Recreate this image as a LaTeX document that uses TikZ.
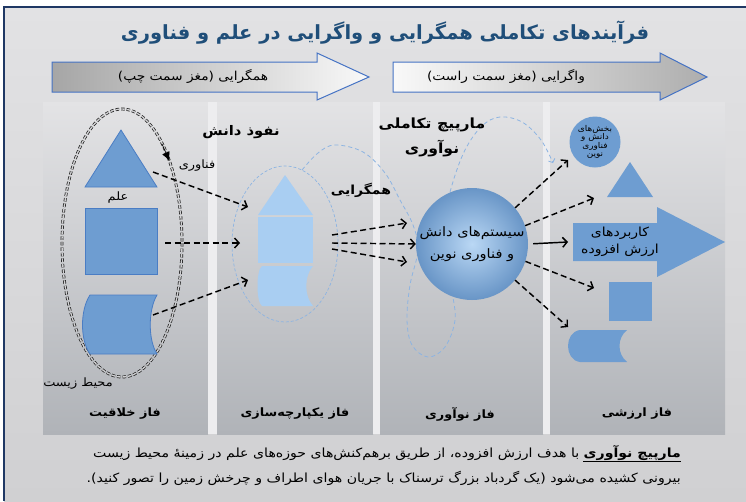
\documentclass[tikz,border=0pt]{standalone}
\usepackage{fontspec}
\usetikzlibrary{shapes.geometric,arrows.meta,calc}
\TeXXeTstate=1
\newfontfamily\fa[Script=Arabic, FakeStretch=1.12]{DejaVu Sans}
\newfontfamily\fatitle[Script=Arabic]{DejaVu Sans}
\newcommand\RL[1]{\beginR #1\endR}
\newcommand\zw{\kern0pt{}}
\definecolor{navy}{HTML}{1F4E79}
\definecolor{frameblue}{HTML}{1F3864}
\definecolor{arrowblue}{HTML}{4472C4}
\definecolor{shapeblue}{HTML}{6E9DD1}
\definecolor{shapeedge}{HTML}{4A7DC4}
\definecolor{lightshape}{HTML}{A9CEF2}
\definecolor{spiral}{HTML}{8DB4E2}
\definecolor{bgtop}{HTML}{E2E2E4}
\definecolor{bgbot}{HTML}{D0D0D2}
\definecolor{coltop}{HTML}{E3E3E5}
\definecolor{colbot}{HTML}{B0B3B8}
\definecolor{gapcol}{HTML}{EDEDEF}
\begin{document}
\begin{tikzpicture}[x=1pt,y=-1pt,
  txt/.style={font=\fa\fontsize{#1}{#1}\selectfont, inner sep=0pt},
  btxt/.style={font=\fa\bfseries\fontsize{#1}{#1}\selectfont, inner sep=0pt},
  bigarrow/.style={draw=arrowblue, line width=1pt},
  dasharrow/.style={draw=black, line width=1.45pt, dash pattern=on 6pt off 3.5pt, -{Straight Barb[length=4.5pt,width=10pt]}},
  solidarrow/.style={draw=black, line width=1.45pt, -{Straight Barb[length=4.5pt,width=10pt]}},
  spiralline/.style={draw=spiral, line width=0.8pt, dash pattern=on 4pt off 3pt},
  colband/.style={top color=coltop, bottom color=colbot, draw=none},
]
\useasboundingbox (0,0) rectangle (746,501);
% background and frame
\fill[white] (0,0) rectangle (746,501);
\fill[top color=bgtop, bottom color=bgbot] (4,7) rectangle (746,501);
\draw[frameblue, line width=1.4pt] (4,501) -- (4,7) -- (746,7);
% columns
\fill[colband] (43,102) rectangle (208,434);
\fill[colband] (217,102) rectangle (373,434);
\fill[colband] (380,102) rectangle (543,434);
\fill[colband] (550,102) rectangle (725,434);
\fill[gapcol] (208,102) rectangle (217,434);
\fill[gapcol] (373,102) rectangle (380,434);
\fill[gapcol] (543,102) rectangle (550,434);
% title
\node[font=\fatitle\bfseries\fontsize{19.5}{19.5}\selectfont, inner sep=0pt, text=navy] (title) at (385,33) {\RL{فرآیندهای تکاملی همگرایی و واگرایی در علم و فناوری}};
% top arrows
\path[bigarrow, left color=black!35, right color=white!95!gray] (52,62) -- (317,62) -- (317,53) -- (369,77) -- (317,100) -- (317,92) -- (52,92) -- cycle;
\path[bigarrow, left color=white!95!gray, right color=black!32] (393,62) -- (660,62) -- (660,53) -- (707,77) -- (660,100) -- (660,92) -- (393,92) -- cycle;
\node[txt=12.3] (conv) at (193,76) {\RL{همگرایی (مغز سمت چپ)}};
\node[txt=12.3] (div) at (506,76) {\RL{واگرایی (مغز سمت راست)}};
% ---------- column 1 ----------
\draw[black!90, line width=0.7pt, double=bgbot, double distance=1.4pt, dash pattern=on 3.5pt off 2pt] (122,243) ellipse [x radius=60, y radius=134];
\coordinate (envA) at (162,144);
\coordinate (envB) at (169.5,161);
\draw[black, line width=0.6pt, -{Latex[length=9pt,width=8pt]}] (envA) -- (envB);
\filldraw[fill=shapeblue, draw=shapeedge, line width=0.8pt] (121,130) -- (157,187) -- (85,187) -- cycle;
\filldraw[fill=shapeblue, draw=shapeedge, line width=0.8pt] (85,208) rectangle (157,274);
\filldraw[fill=shapeblue, draw=shapeedge, line width=0.8pt] (90,295) -- (157,295) .. controls (148,310) and (148,340) .. (157,354) -- (90,354) .. controls (80,340) and (80,310) .. (90,295) -- cycle;
\coordinate (tri1E) at (153,172);
\coordinate (sq1E) at (165,243);
\coordinate (sc1E) at (153,315);
\node[txt=11.5] (sci) at (118,198) {\RL{علم}};
\node[txt=11.5] (tech) at (197,166) {\RL{فناوری}};
\node[txt=11.5] (envl) at (78,384) {\RL{محیط زیست}};
% ---------- column 2 ----------
\draw[spiral, line width=0.7pt, dash pattern=on 3pt off 2pt] (285,244) ellipse [x radius=53, y radius=78];
\fill[lightshape] (285,175) -- (313,215) -- (258,215) -- cycle;
\fill[lightshape] (258,217) rectangle (313,263);
\fill[lightshape] (262,266) -- (313,266) .. controls (304,276) and (304,296) .. (313,306) -- (262,306) .. controls (256,302) and (256,270) .. (262,266) -- cycle;
\coordinate (in1) at (248,207);
\coordinate (in2) at (240,243);
\coordinate (in3) at (248,280);
\draw[dasharrow] (tri1E) -- (in1);
\draw[dasharrow] (sq1E) -- (in2);
\draw[dasharrow] (sc1E) -- (in3);
\node[btxt=13.2] (know) at (241,132) {\RL{نفوذ دانش}};
\node[btxt=12.5] (convl) at (361,190) {\RL{همگرایی}};
% spiral
\draw[spiralline, -{Straight Barb[length=3pt,width=7pt]}] plot[smooth, tension=0.6] coordinates {(302,170) (318,153) (335,145) (363,152) (385,173) (400,200) (413,225) (418,250) (410,285) (407,320) (412,345) (428,357) (445,347) (455,320) (452,290) (448,250) (446,215) (452,185) (465,150) (482,126) (500,117) (522,122) (541,140) (553,163)};
% ---------- column 3 ----------
\node[circle, minimum size=112pt, inner sep=0pt, shading=radial, inner color=lightshape!80!white, outer color=shapeblue!95!black, align=center, font=\fa\fontsize{13}{22}\selectfont] (sys) at (472,244) {\RL{سیستم\zw های دانش}\\\RL{و فناوری نوین}};
\coordinate (o1) at (332,235);
\coordinate (o2) at (332,243);
\coordinate (o3) at (332,249);
\draw[dasharrow] (o1) -- (407,223);
\draw[dasharrow] (o2) -- (sys.west) ;
\draw[dasharrow] (o3) -- (407,262);
\node[btxt=14] (spt) at (432,125) {\RL{مارپیچ تکاملی}};
\node[btxt=14] (spb) at (432,149) {\RL{نوآوری}};
% ---------- column 4 ----------
\node[circle, fill=shapeblue, minimum size=51pt, inner sep=0pt, align=center, font=\fa\fontsize{8}{8.6}\selectfont] (sc) at (595,142) {\RL{بخش\zw های}\\\RL{دانش و}\\\RL{فناوری}\\\RL{نوین}};
\fill[shapeblue] (630,162) -- (653,197) -- (607,197) -- cycle;
\fill[shapeblue] (573,223) -- (657,223) -- (657,207) -- (725,242) -- (657,277) -- (657,261) -- (573,261) -- cycle;
\node[align=center, inner sep=0pt, font=\fa\fontsize{12.5}{17}\selectfont] (va) at (620,242) {\RL{کاربردهای}\\\RL{ارزش افزوده}};
\fill[shapeblue] (609,282) rectangle (652,321);
\fill[shapeblue] (580,330) -- (627,330) .. controls (617,338) and (617,354) .. (627,362) -- (580,362) .. controls (564,360) and (564,332) .. (580,330) -- cycle;
\coordinate (t1) at (568,160);
\coordinate (t2) at (594,198);
\coordinate (t3) at (568,242);
\coordinate (t4) at (594,288);
\coordinate (t5) at (568,327);
\draw[dasharrow] (sys.40) -- (t1);
\draw[dasharrow] (sys.19) -- (t2);
\draw[solidarrow, shorten <=5pt] (sys.east) -- (t3);
\draw[dasharrow] (sys.-18) -- (t4);
\draw[dasharrow] (sys.-40) -- (t5);
% phase labels
\node[btxt=11.5] (p1) at (125,414) {\RL{فاز خلاقیت}};
\node[btxt=11.5] (p2) at (295,414) {\RL{فاز یکپارچه\zw سازی}};
\node[btxt=11.5] (p3) at (460,414) {\RL{فاز نوآوری}};
\node[btxt=11.5] (p4) at (637,414) {\RL{فاز ارزشی}};
% bottom text
\node[btxt=12.6, anchor=base east] (l1a) at (681,457) {\RL{مارپیچ نوآوری}};
\node[txt=12.6, anchor=base east] (l1b) at ([xshift=-4pt]l1a.base west) {\RL{با هدف ارزش افزوده، از طریق برهم\zw کنش\zw های حوزه\zw های علم در زمینهٔ محیط زیست}};
\draw[black, line width=0.7pt] ([yshift=-4.5pt]l1a.base west) -- ([yshift=-4.5pt]l1a.base east);
\node[txt=12.6, anchor=base east] (l2) at (681,482) {\RL{بیرونی کشیده می\zw شود (یک گردباد بزرگ ترسناک با جریان هوای اطراف و چرخش زمین را تصور کنید).}};
\end{tikzpicture}
\end{document}
